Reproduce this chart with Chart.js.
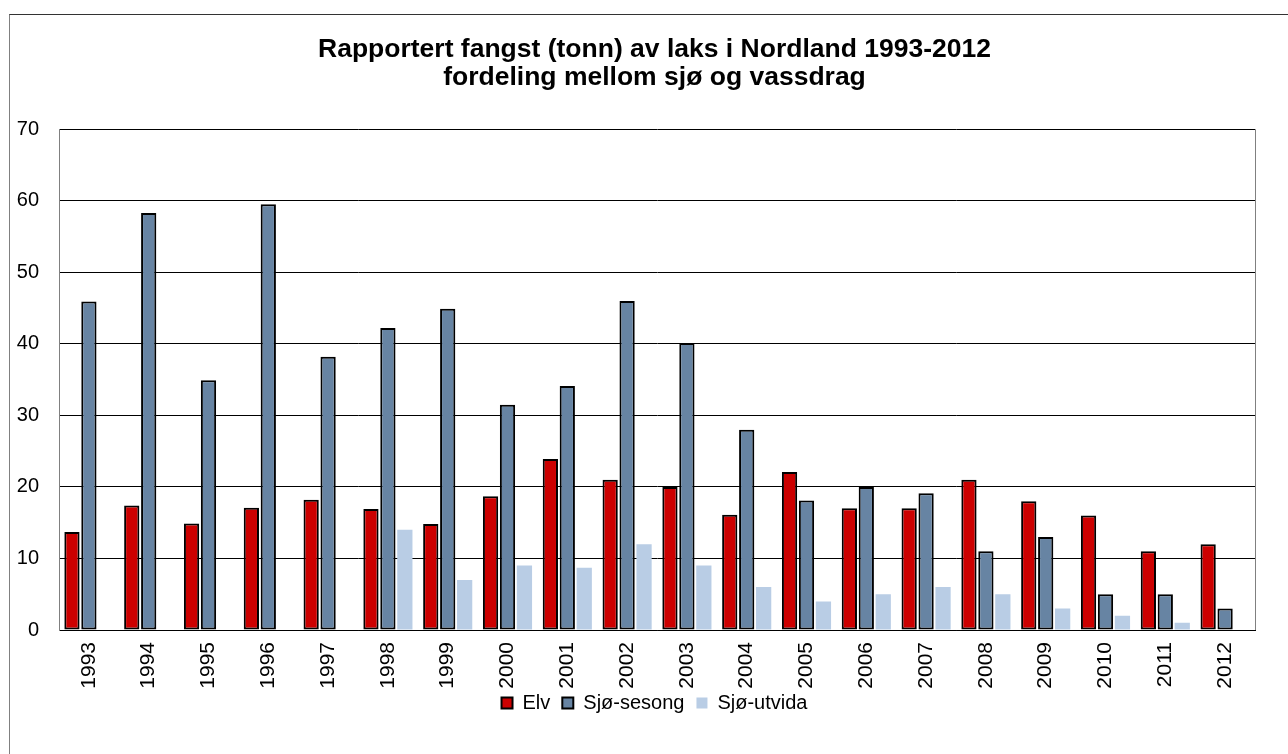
<!DOCTYPE html>
<html>
<head>
<meta charset="utf-8">
<script src="https://cdn.jsdelivr.net/npm/chart.js@4/dist/chart.umd.min.js"></script>
<style>
  html, body { margin: 0; padding: 0; background: #fff; overflow: hidden; }
  #frame {
    position: absolute; left: 9px; top: 14px; width: 1400px; height: 800px;
    border-top: 1px solid #333; border-left: 1px solid #808080;
  }
  #wrap { position: absolute; left: 0; top: 0; width: 1288px; height: 754px; }
</style>
</head>
<body>
<div id="frame"></div>
<div id="wrap"><canvas id="chart"></canvas></div>
<script>
// Rapportert fangst (tonn) av laks i Nordland
const years = ['1993', '1994', '1995', '1996', '1997', '1998', '1999', '2000', '2001', '2002',
               '2003', '2004', '2005', '2006', '2007', '2008', '2009', '2010', '2011', '2012'];
const elv        = [13.7, 17.4, 14.9, 17.1, 18.2, 16.9, 14.8, 18.7, 23.9, 21.0,
                    20.0, 16.1, 22.1, 17.0, 17.0, 21.0, 18.0, 16.0, 11.0, 12.0];
const sjoSesong  = [45.9, 58.3, 34.9, 59.5, 38.2, 42.2, 44.9, 31.5, 34.1, 46.0,
                    40.1, 28.0, 18.1, 20.0, 19.1, 11.0, 13.0, 5.0, 5.0, 3.0];
const sjoUtvida  = [null, null, null, null, null, 14.0, 7.0, 9.0, 8.7, 12.0,
                    9.0, 6.0, 4.0, 5.0, 6.0, 5.0, 3.0, 2.0, 1.0, null];
const yTicks = [0, 10, 20, 30, 40, 50, 60, 70];

const FONT = "'Liberation Sans', Arial, sans-serif";

// høyre kant av plottområdet
const areaBorder = {
  id: 'areaBorder',
  afterDatasetsDraw(chart) {
    const { ctx, chartArea: a } = chart;
    ctx.save();
    ctx.strokeStyle = '#808080';
    ctx.lineWidth = 1;
    ctx.beginPath();
    ctx.moveTo(Math.round(a.right) + 0.5, a.top);
    ctx.lineTo(Math.round(a.right) + 0.5, a.bottom);
    ctx.stroke();
    ctx.restore();
  },
};

// tittel og forklaring sentreres over plottområdet, forklaringen løftes litt opp
const shiftBoxes = {
  id: 'shiftBoxes',
  afterLayout(chart) {
    const dx = 22;
    const t = chart.titleBlock;
    if (t) { t.left += dx; t.right += dx; }
    const l = chart.legend;
    if (l) { l.left += dx; l.right += dx; l.top -= 12; l.bottom -= 12; }
  },
};

new Chart(document.getElementById('chart'), {
  type: 'bar',
  data: {
    labels: years,
    datasets: [
      { label: 'Elv',        data: elv,       backgroundColor: '#cc0000', borderColor: '#000', borderWidth: 2, borderSkipped: false },
      { label: 'Sjø-sesong', data: sjoSesong, backgroundColor: '#6784a3', borderColor: '#000', borderWidth: 2, borderSkipped: false },
      { label: 'Sjø-utvida', data: sjoUtvida, backgroundColor: '#b9cde5', borderWidth: 0 },
    ],
  },
  options: {
    responsive: true,
    maintainAspectRatio: false,
    animation: false,
    categoryPercentage: 0.85,
    barPercentage: 0.9,
    layout: { padding: { left: 10, right: 33, top: 0, bottom: 19 } },
    plugins: {
      title: {
        display: true,
        text: ['Rapportert fangst (tonn) av laks i Nordland 1993-2012', 'fordeling mellom sjø og vassdrag'],
        color: '#000',
        font: { family: FONT, size: 26.5, weight: 'bold', lineHeight: 1.06 },
        padding: { top: 36, bottom: 37 },
      },
      legend: {
        position: 'bottom',
        labels: {
          color: '#000',
          font: { family: FONT, size: 20, lineHeight: 1.0 },
          boxWidth: 11,
          boxHeight: 11,
          padding: 12,
        },
      },
      tooltip: { enabled: false },
    },
    scales: {
      x: {
        grid: { display: false, drawTicks: false },
        border: { display: true, color: '#000', width: 1 },
        ticks: {
          color: '#000',
          font: { family: FONT, size: 21 },
          minRotation: 90,
          maxRotation: 90,
          padding: 12,
        },
        afterFit(scale) { scale.height = 63; },
      },
      y: {
        min: 0,
        max: 70,
        afterBuildTicks(scale) { scale.ticks = yTicks.map(v => ({ value: v })); },
        grid: { color: '#000', lineWidth: 1, drawTicks: false },
        border: { display: true, color: '#808080', width: 1 },
        ticks: {
          color: '#000',
          font: { family: FONT, size: 20 },
          padding: 20,
        },
        afterFit(scale) { scale.width = 49; },
      },
    },
  },
  plugins: [areaBorder, shiftBoxes],
});
</script>
</body>
</html>
